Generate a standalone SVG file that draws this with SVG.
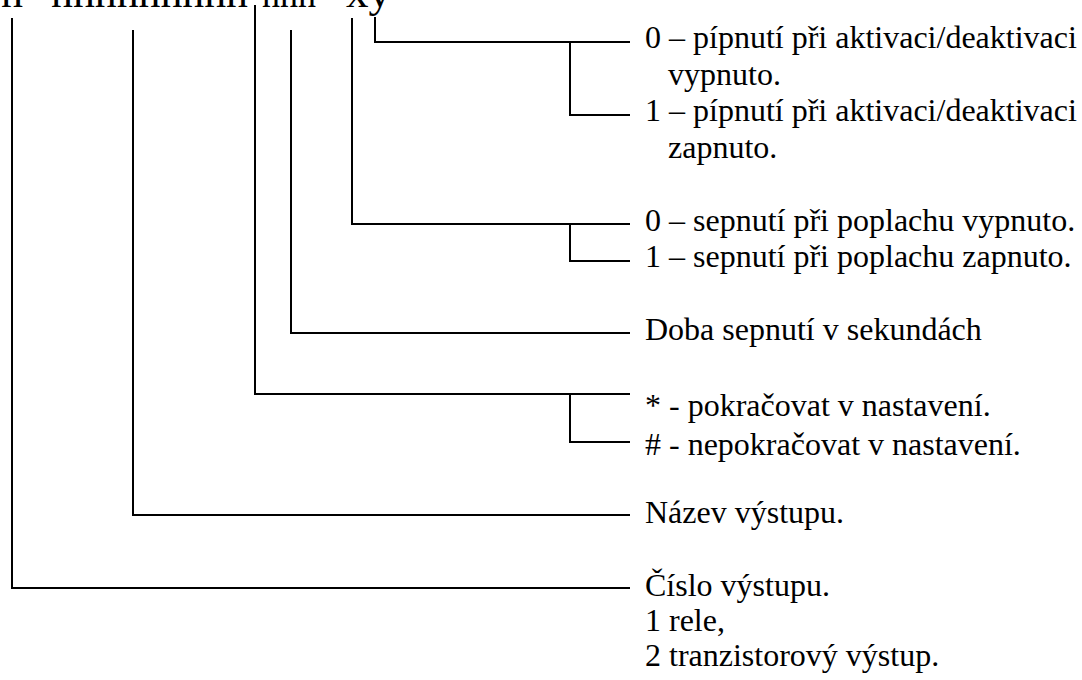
<svg xmlns="http://www.w3.org/2000/svg" width="1082" height="680" viewBox="0 0 1082 680">
<style>
text{font-family:"Liberation Serif","Times New Roman",serif;fill:#000}
.t{font-size:32px}
.h{font-size:44px}
.c{fill:none;stroke:#000;stroke-width:2}
</style>
<rect width="1082" height="680" fill="#fff"/>
<g id="format">
<text class="h" x="1" y="7" textLength="22" lengthAdjust="spacingAndGlyphs">n</text>
<text class="h" x="51" y="7" textLength="197" lengthAdjust="spacingAndGlyphs">nnnnnnnnn</text>
<text class="h" x="262" y="7" textLength="54" lengthAdjust="spacingAndGlyphs">nnn</text>
<text class="h" x="346" y="7" textLength="45" lengthAdjust="spacingAndGlyphs">xy</text>
</g>
<g id="connectors" class="c">
<path d="M375,17 V42 H630 M570,42 V115 H630"/>
<path d="M352,18 V224 H630 M570,224 V261 H630"/>
<path d="M291,30 V333 H630"/>
<path d="M255,5 V394 H630 M570,394 V442 H630"/>
<path d="M133,30 V515 H630"/>
<path d="M12,18 V588 H630"/>
</g>
<g id="beep">
<text class="t" x="645" y="48">0 – pípnutí při aktivaci/deaktivaci</text>
<text class="t" x="668" y="84.5">vypnuto.</text>
<text class="t" x="645" y="121">1 – pípnutí při aktivaci/deaktivaci</text>
<text class="t" x="668" y="157.5">zapnuto.</text>
</g>
<g id="alarm">
<text class="t" x="645" y="230.5">0 – sepnutí při poplachu vypnuto.</text>
<text class="t" x="645" y="267">1 – sepnutí při poplachu zapnuto.</text>
</g>
<g id="time">
<text class="t" x="645" y="340">Doba sepnutí v sekundách</text>
</g>
<g id="continue">
<text class="t" x="645" y="416">* - pokračovat v nastavení.</text>
<text class="t" x="645" y="455">#  - nepokračovat v nastavení.</text>
</g>
<g id="name">
<text class="t" x="645" y="523">Název výstupu.</text>
</g>
<g id="number">
<text class="t" x="645" y="596">Číslo výstupu.</text>
<text class="t" x="645" y="631">1 rele,</text>
<text class="t" x="645" y="666">2 tranzistorový výstup.</text>
</g>
</svg>
